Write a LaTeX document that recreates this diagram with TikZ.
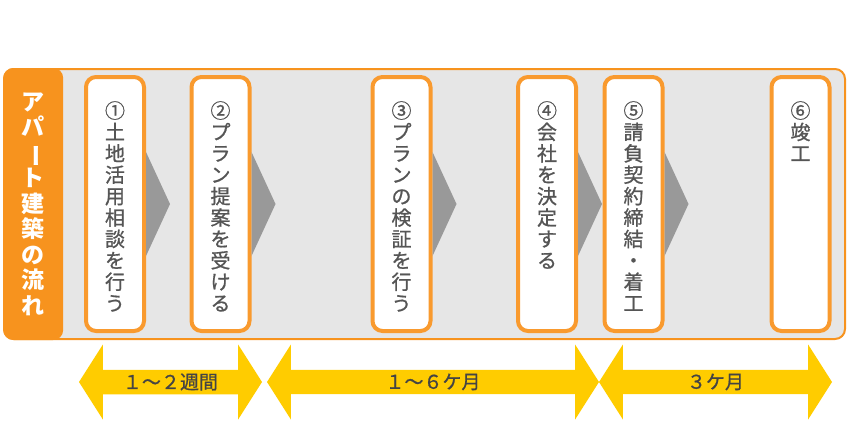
\documentclass[tikz,border=0pt]{standalone}
\usepackage{fontspec}
\setmainfont{Noto Sans CJK JP}
\newfontfamily\stepfont{Noto Sans CJK JP}[FakeBold=0.9]
\usepackage{graphicx}
\usetikzlibrary{positioning,calc,shapes.arrows}
\definecolor{floworange}{HTML}{F7931E}
\definecolor{boxorange}{HTML}{F99A2E}
\definecolor{flowbg}{HTML}{E6E6E6}
\definecolor{chevgray}{HTML}{999999}
\definecolor{txtgray}{HTML}{555555}
\definecolor{spanyellow}{HTML}{FFCC00}
\tikzset{
  stepbox/.style={draw=boxorange,line width=4pt,fill=white,rounded corners=10pt,
    minimum width=58pt,minimum height=254pt,inner sep=0pt},
  steptext/.style={text=txtgray,font=\stepfont\fontsize{20}{21.4}\selectfont,
    align=center,inner sep=0pt},
  chevron/.style={fill=chevgray},
  spanarrow/.style={double arrow,fill=spanyellow,draw=none,inner sep=0pt,
    minimum width=75pt,double arrow head extend=18pt,double arrow tip angle=115,
    text=txtgray!80!black,font=\stepfont\fontsize{19}{19}\selectfont}
}
\begin{document}
\begin{tikzpicture}[x=1pt,y=-1pt]
  \useasboundingbox (0,0) rectangle (852,426);
  \node[draw=floworange,line width=2pt,fill=flowbg,rounded corners=10pt,
    minimum width=841pt,minimum height=270pt] (frame) at (424.5,204) {};
  \node[fill=floworange,rounded corners=10pt,minimum width=60pt,minimum height=272pt,
    anchor=west,text=white,font=\bfseries\fontsize{23}{25.5}\selectfont,align=center]
    (tab) at (frame.west) {ア\\パ\\\rotatebox[origin=c]{-90}{ー}\\ト\\建\\築\\の\\流\\れ};

  \node[stepbox] (s1) at (115,204) {};
  \node[stepbox] (s2) at (220.5,204) {};
  \node[stepbox] (s3) at (401.5,204) {};
  \node[stepbox] (s4) at (547,204) {};
  \node[stepbox] (s5) at (633.5,204) {};
  \node[stepbox] (s6) at (800.5,204) {};

  \foreach \s in {s1,s2,s3,s4,s5}
    \fill[chevron] ($(\s.east)+(0,-52)$) -- ($(\s.east)+(24,0)$) -- ($(\s.east)+(0,52)$) -- cycle;

  \node[steptext,anchor=north,below=26pt of s1.north] (t1) {①\\土\\地\\活\\用\\相\\談\\を\\行\\う};
  \node[steptext,anchor=north,below=26pt of s2.north] (t2) {②\\プ\\ラ\\ン\\提\\案\\を\\受\\け\\る};
  \node[steptext,anchor=north,below=26pt of s3.north] (t3) {③\\プ\\ラ\\ン\\の\\検\\証\\を\\行\\う};
  \node[steptext,anchor=north,below=26pt of s4.north] (t4) {④\\会\\社\\を\\決\\定\\す\\る};
  \node[steptext,anchor=north,below=26pt of s5.north] (t5) {⑤\\請\\負\\契\\約\\締\\結\\・\\着\\工};
  \node[steptext,anchor=north,below=26pt of s6.north] (t6) {⑥\\竣\\工};

  \node[spanarrow,minimum height=183pt] (d1) at (170.5,382) {１～２週間};
  \node[spanarrow,minimum height=332pt] (d2) at (433,382) {１～６ケ月};
  \node[spanarrow,minimum height=233pt] (d3) at (715.5,382) {３ケ月};
\end{tikzpicture}
\end{document}
